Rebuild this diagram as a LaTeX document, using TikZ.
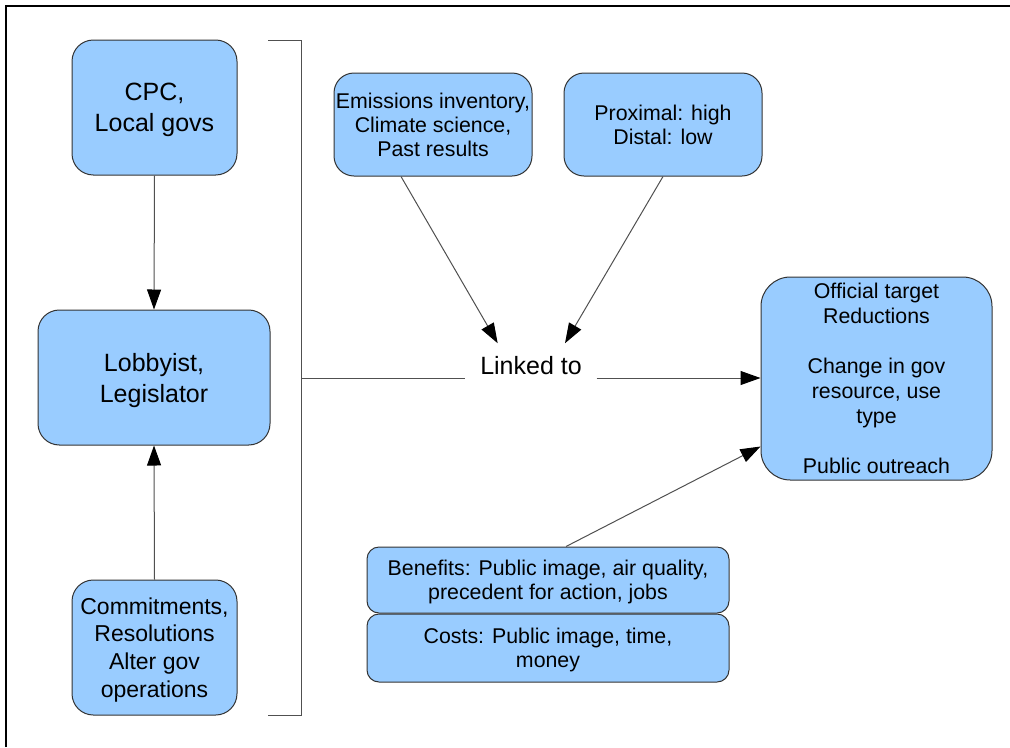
\documentclass[tikz,border=0pt]{standalone}
\usepackage{fontspec}
\setmainfont{Liberation Sans}
\usetikzlibrary{arrows.meta}
\definecolor{boxblue}{HTML}{99CCFF}
\definecolor{boxline}{HTML}{333333}
\definecolor{wire}{HTML}{505050}
\tikzset{
  box/.style={draw=boxline, line width=0.75pt, fill=boxblue, align=center,
    inner sep=0pt, text depth=0pt},
  bigtext/.style={font=\fontsize{18.75pt}{23.25pt}\selectfont},
  midtext/.style={font=\fontsize{17.25pt}{20.8pt}\selectfont},
  smalltext/.style={font=\fontsize{16pt}{18pt}\selectfont},
  wireline/.style={draw=wire, line width=0.75pt},
  arrowline/.style={wireline, -{Triangle[length=15pt,width=10.5pt,color=black]}},
}
\begin{document}
\begin{tikzpicture}[x=0.75pt, y=-0.75pt]
\useasboundingbox (0,0) rectangle (1010,747);
% frame along the top and left edges
\draw[line width=1.5pt] (6,747) -- (6,6) -- (1010,6);

% left column
\node[box, bigtext, rounded corners=16pt, minimum width=123.75pt, minimum height=101.25pt]
  (cpc) at (154.5,107.5) {CPC,\\Local govs};
\node[box, bigtext, rounded corners=16pt, minimum width=174pt, minimum height=101.25pt]
  (lob) at (154,377.5) {Lobbyist,\\Legislator};
\node[box, midtext, rounded corners=16pt, minimum width=123.75pt, minimum height=101.25pt]
  (com) at (154.5,647.5) {Commitments,\\Resolutions\\Alter gov\\operations};

% upper boxes
\node[box, smalltext, rounded corners=15pt, minimum width=148.5pt, minimum height=77.25pt]
  (emi) at (433,124.5) {Emissions inventory,\\Climate science,\\Past results};
\node[box, smalltext, rounded corners=15pt, minimum width=148.5pt, minimum height=77.25pt]
  (prox) at (663,124.5) {Proximal: high\\Distal: low};

% outcome box
\node[box, rounded corners=22pt, minimum width=173.25pt, minimum height=152.25pt,
  font=\fontsize{16pt}{18.75pt}\selectfont]
  (tgt) at (876.5,378.5) {Official target\\Reductions\\[18.75pt]Change in gov\\resource, use\\type\\[18.75pt]Public outreach};

% benefits and costs
\node[box, smalltext, rounded corners=9pt, minimum width=271.5pt, minimum height=49.5pt]
  (ben) at (548,580) {Benefits: Public image, air quality,\\precedent for action, jobs};
\node[box, smalltext, rounded corners=9pt, minimum width=271.5pt, minimum height=51pt]
  (cost) at (548,648) {Costs: Public image, time,\\money};

% central label
\node[bigtext, inner xsep=11pt, inner ysep=10pt] (linked) at (531,366) {Linked to};

% bracket grouping the left column
\coordinate (brtop) at (268,40);
\coordinate (brbot) at (268,715);
\coordinate (brk) at (301,378);
\draw[wireline] (brtop) -- (brtop -| brk) -- (brbot -| brk) -- (brbot);

% connectors
\draw[arrowline] (cpc.south) -- (lob.north);
\draw[arrowline] (com.north) -- (lob.south);
\draw[wireline] (brk) -- (brk -| linked.west);
\draw[arrowline] (brk -| linked.east) -- (brk -| tgt.west);
\draw[arrowline] ([xshift=-24pt]emi.south) -- ([xshift=-25pt]linked.north);
\draw[arrowline] (prox.south) -- ([xshift=25.5pt]linked.north);
\draw[arrowline] ([xshift=13.5pt]ben.north) -- ([yshift=-51pt]tgt.west);
\end{tikzpicture}
\end{document}
